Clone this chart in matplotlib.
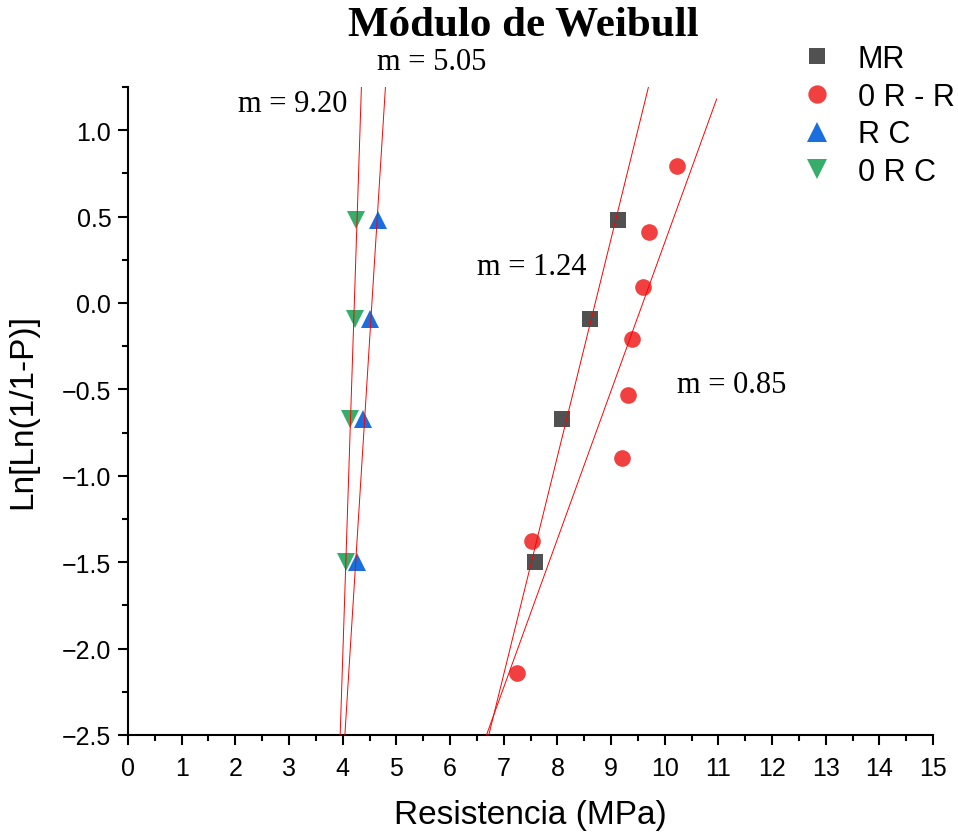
import numpy as np
import matplotlib
matplotlib.use("Agg")
import matplotlib.pyplot as plt
from matplotlib.ticker import MultipleLocator

# ---- data ----
mr_x = [7.58, 8.09, 8.61, 9.13]
mr_y = [-1.50, -0.67, -0.09, 0.48]

orr_x = [7.25, 7.53, 9.20, 9.32, 9.39, 9.60, 9.71, 10.23]
orr_y = [-2.14, -1.38, -0.90, -0.53, -0.21, 0.09, 0.41, 0.79]

rc_x = [4.27, 4.38, 4.51, 4.66]
rc_y = [-1.50, -0.67, -0.09, 0.48]

orc_x = [4.06, 4.14, 4.23, 4.25]
orc_y = [-1.50, -0.67, -0.09, 0.48]

series_names = ["MR", "0 R - R", "R C", "0 R C"]
slope_labels = ["m = 1.24", "m = 0.85", "m = 5.05", "m = 9.20"]

colors = ["#515151", "#F14040", "#1A6FDF", "#37AD6B"]
markers = ["s", "o", "^", "v"]

fig = plt.figure(figsize=(9.58, 8.37), dpi=100)
ax = fig.add_axes([0.1336, 0.1207, 0.8404, 0.7742])

xs = [mr_x, orr_x, rc_x, orc_x]
ys = [mr_y, orr_y, rc_y, orc_y]
line_top = [1.3, 1.18, 1.3, 1.3]

# fit lines
for x, y, yt in zip(xs, ys, line_top):
    k, b = np.polyfit(x, y, 1)
    yy = np.array([-2.5, yt])
    ax.plot((yy - b) / k, yy, color="#ff0000", lw=0.7, zorder=3)

sizes = [11, 12, 13, 13]
for x, y, c, m, n, s in zip(xs, ys, colors, markers, series_names, sizes):
    ax.plot(x, y, linestyle="none", marker=m, color=c, markersize=s,
            markeredgewidth=0, label=n, zorder=2)

ax.set_xlim(0, 15)
ax.set_ylim(-2.5, 1.25)
ax.xaxis.set_major_locator(MultipleLocator(1))
ax.xaxis.set_minor_locator(MultipleLocator(0.5))
ax.set_yticks(np.arange(-2.5, 1.01, 0.5))
ax.yaxis.set_minor_locator(MultipleLocator(0.25))

for sp in ["top", "right"]:
    ax.spines[sp].set_visible(False)
for sp in ["left", "bottom"]:
    ax.spines[sp].set_linewidth(1.5)

sans = "Liberation Sans"
serif = "Liberation Serif"
ax.tick_params(which="major", length=7, width=1.5, direction="out",
               labelsize=18)
ax.tick_params(which="minor", length=4, width=1.5, direction="out")
for lab in ax.get_xticklabels() + ax.get_yticklabels():
    lab.set_fontfamily(sans)
ax.tick_params(axis="x", pad=8)
ax.tick_params(axis="y", pad=5)

ax.set_xlabel("Resistencia (MPa)", fontfamily=sans, fontsize=24, labelpad=14)
ax.set_ylabel("Ln[Ln(1/1-P)]", fontfamily=sans, fontsize=24, labelpad=17)

fig.text(0.546, 0.970, "Módulo de Weibull", fontfamily=serif,
         fontweight="bold", fontsize=31, ha="center", va="center")

label_pos = [(7.53, 0.21), (11.25, -0.47), (5.65, 1.40), (3.06, 1.156)]
for (tx, ty), t in zip(label_pos, slope_labels):
    ax.text(tx, ty, t, fontfamily=serif, fontsize=22, ha="center",
            va="center", clip_on=False)

leg = ax.legend(loc="upper left", bbox_to_anchor=(0.8175, 1.085),
                frameon=False, prop={"family": sans, "size": 22},
                handletextpad=0.75, labelspacing=0.25, handlelength=1.2,
                borderaxespad=0, markerscale=1.1)

fig.savefig("out.png", dpi=100, facecolor="white")
